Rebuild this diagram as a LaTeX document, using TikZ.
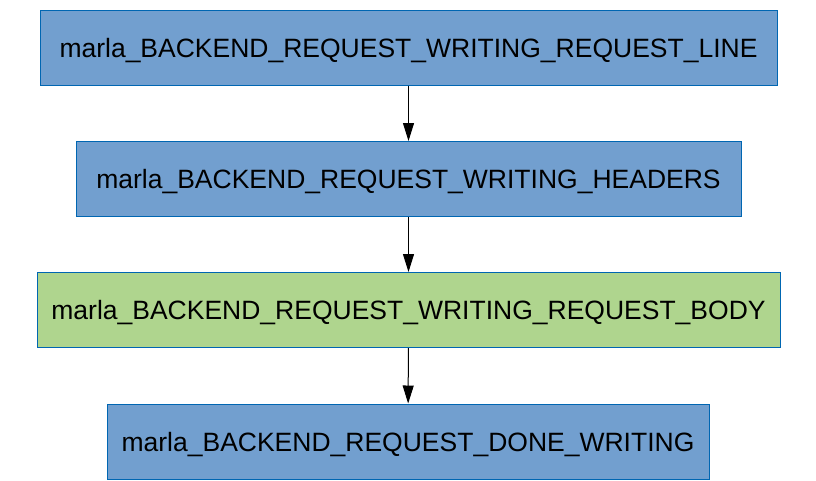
\documentclass[tikz,border=0pt]{standalone}
\usepackage{fontspec}
\setmainfont{Liberation Sans}
\usetikzlibrary{arrows.meta,positioning}

\begin{document}
\begin{tikzpicture}
[x=1pt,y=-1pt,>={Triangle[length=18pt,width=11pt]},
state/.style = {draw=blue!50!black!60!cyan, fill=stateblue, line width=1pt, minimum height=75pt, inner sep=0pt, text depth=0pt, font=\fontsize{26.5}{30}\selectfont},
body/.style = {state, fill=stategreen},]
\definecolor{stateblue}{HTML}{729FCF}
\definecolor{stategreen}{HTML}{AFD58E}
\useasboundingbox (0,0) rectangle (816,480);
\node (L) at (408.5,47.5)[state,minimum width=737pt] {marla\_BACKEND\_REQUEST\_WRITING\_REQUEST\_LINE};
\node (H) at (408.5,179)[state,minimum width=665pt] {marla\_BACKEND\_REQUEST\_WRITING\_HEADERS};
\node (B) at (408.5,310)[body,minimum width=743pt] {marla\_BACKEND\_REQUEST\_WRITING\_REQUEST\_BODY};
\node (D) at (408,441.5)[state,minimum width=602pt] {marla\_BACKEND\_REQUEST\_DONE\_WRITING};
\draw[->,line width=1pt] (L)--(H);
\draw[->,line width=1pt] (H)--(B);
\draw[->,line width=1pt] (B)--(D);
\end{tikzpicture}
\end{document}
